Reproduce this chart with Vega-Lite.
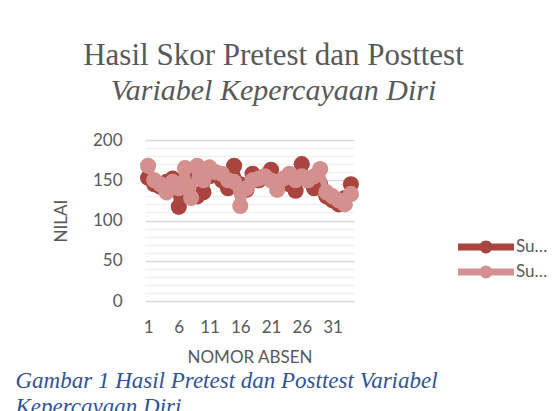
{
  "$schema": "https://vega.github.io/schema/vega-lite/v6.json",
  "autosize": "none",
  "width": 209,
  "height": 161,
  "padding": {"left": 145, "top": 140, "right": 201, "bottom": 110},
  "background": "white",
  "title": {
    "text": "Hasil Skor Pretest dan Posttest",
    "subtitle": "Variabel Kepercayaan Diri",
    "font": "Liberation Serif",
    "fontSize": 31,
    "fontWeight": "normal",
    "color": "#595959",
    "subtitleFont": "Liberation Serif",
    "subtitleFontSize": 30,
    "subtitleFontStyle": "italic",
    "subtitleColor": "#595959",
    "subtitlePadding": 4,
    "anchor": "middle",
    "dx": 24,
    "offset": 24
  },
  "config": {
    "view": {"stroke": null},
    "axis": {"labelFont": "Lato", "titleFont": "Lato", "labelColor": "#595959", "titleColor": "#595959", "labelFontSize": 17, "titleFontSize": 17, "titleFontWeight": "normal"}
  },
  "resolve": {"axis": {"x": "independent"}},
  "data": {
    "values": [
      {"NOMOR": 1, "Seri": "Sum of Pretest", "NILAI": 153},
      {"NOMOR": 2, "Seri": "Sum of Pretest", "NILAI": 145},
      {"NOMOR": 3, "Seri": "Sum of Pretest", "NILAI": 142},
      {"NOMOR": 4, "Seri": "Sum of Pretest", "NILAI": 148},
      {"NOMOR": 5, "Seri": "Sum of Pretest", "NILAI": 152},
      {"NOMOR": 6, "Seri": "Sum of Pretest", "NILAI": 117},
      {"NOMOR": 7, "Seri": "Sum of Pretest", "NILAI": 140},
      {"NOMOR": 8, "Seri": "Sum of Pretest", "NILAI": 150},
      {"NOMOR": 9, "Seri": "Sum of Pretest", "NILAI": 130},
      {"NOMOR": 10, "Seri": "Sum of Pretest", "NILAI": 135},
      {"NOMOR": 11, "Seri": "Sum of Pretest", "NILAI": 155},
      {"NOMOR": 12, "Seri": "Sum of Pretest", "NILAI": 158},
      {"NOMOR": 13, "Seri": "Sum of Pretest", "NILAI": 150},
      {"NOMOR": 14, "Seri": "Sum of Pretest", "NILAI": 140},
      {"NOMOR": 15, "Seri": "Sum of Pretest", "NILAI": 168},
      {"NOMOR": 16, "Seri": "Sum of Pretest", "NILAI": 145},
      {"NOMOR": 17, "Seri": "Sum of Pretest", "NILAI": 138},
      {"NOMOR": 18, "Seri": "Sum of Pretest", "NILAI": 158},
      {"NOMOR": 19, "Seri": "Sum of Pretest", "NILAI": 150},
      {"NOMOR": 20, "Seri": "Sum of Pretest", "NILAI": 155},
      {"NOMOR": 21, "Seri": "Sum of Pretest", "NILAI": 163},
      {"NOMOR": 22, "Seri": "Sum of Pretest", "NILAI": 150},
      {"NOMOR": 23, "Seri": "Sum of Pretest", "NILAI": 148},
      {"NOMOR": 24, "Seri": "Sum of Pretest", "NILAI": 145},
      {"NOMOR": 25, "Seri": "Sum of Pretest", "NILAI": 137},
      {"NOMOR": 26, "Seri": "Sum of Pretest", "NILAI": 170},
      {"NOMOR": 27, "Seri": "Sum of Pretest", "NILAI": 150},
      {"NOMOR": 28, "Seri": "Sum of Pretest", "NILAI": 140},
      {"NOMOR": 29, "Seri": "Sum of Pretest", "NILAI": 145},
      {"NOMOR": 30, "Seri": "Sum of Pretest", "NILAI": 130},
      {"NOMOR": 31, "Seri": "Sum of Pretest", "NILAI": 125},
      {"NOMOR": 32, "Seri": "Sum of Pretest", "NILAI": 120},
      {"NOMOR": 33, "Seri": "Sum of Pretest", "NILAI": 128},
      {"NOMOR": 34, "Seri": "Sum of Pretest", "NILAI": 145},
      {"NOMOR": 1, "Seri": "Sum of Posttest", "NILAI": 168},
      {"NOMOR": 2, "Seri": "Sum of Posttest", "NILAI": 150},
      {"NOMOR": 3, "Seri": "Sum of Posttest", "NILAI": 145},
      {"NOMOR": 4, "Seri": "Sum of Posttest", "NILAI": 135},
      {"NOMOR": 5, "Seri": "Sum of Posttest", "NILAI": 148},
      {"NOMOR": 6, "Seri": "Sum of Posttest", "NILAI": 140},
      {"NOMOR": 7, "Seri": "Sum of Posttest", "NILAI": 165},
      {"NOMOR": 8, "Seri": "Sum of Posttest", "NILAI": 128},
      {"NOMOR": 9, "Seri": "Sum of Posttest", "NILAI": 168},
      {"NOMOR": 10, "Seri": "Sum of Posttest", "NILAI": 150},
      {"NOMOR": 11, "Seri": "Sum of Posttest", "NILAI": 166},
      {"NOMOR": 12, "Seri": "Sum of Posttest", "NILAI": 160},
      {"NOMOR": 13, "Seri": "Sum of Posttest", "NILAI": 158},
      {"NOMOR": 14, "Seri": "Sum of Posttest", "NILAI": 150},
      {"NOMOR": 15, "Seri": "Sum of Posttest", "NILAI": 148},
      {"NOMOR": 16, "Seri": "Sum of Posttest", "NILAI": 118},
      {"NOMOR": 17, "Seri": "Sum of Posttest", "NILAI": 140},
      {"NOMOR": 18, "Seri": "Sum of Posttest", "NILAI": 150},
      {"NOMOR": 19, "Seri": "Sum of Posttest", "NILAI": 152},
      {"NOMOR": 20, "Seri": "Sum of Posttest", "NILAI": 155},
      {"NOMOR": 21, "Seri": "Sum of Posttest", "NILAI": 150},
      {"NOMOR": 22, "Seri": "Sum of Posttest", "NILAI": 138},
      {"NOMOR": 23, "Seri": "Sum of Posttest", "NILAI": 152},
      {"NOMOR": 24, "Seri": "Sum of Posttest", "NILAI": 158},
      {"NOMOR": 25, "Seri": "Sum of Posttest", "NILAI": 150},
      {"NOMOR": 26, "Seri": "Sum of Posttest", "NILAI": 155},
      {"NOMOR": 27, "Seri": "Sum of Posttest", "NILAI": 150},
      {"NOMOR": 28, "Seri": "Sum of Posttest", "NILAI": 155},
      {"NOMOR": 29, "Seri": "Sum of Posttest", "NILAI": 164},
      {"NOMOR": 30, "Seri": "Sum of Posttest", "NILAI": 135},
      {"NOMOR": 31, "Seri": "Sum of Posttest", "NILAI": 130},
      {"NOMOR": 32, "Seri": "Sum of Posttest", "NILAI": 125},
      {"NOMOR": 33, "Seri": "Sum of Posttest", "NILAI": 120},
      {"NOMOR": 34, "Seri": "Sum of Posttest", "NILAI": 133}
    ]
  },
  "encoding": {
    "y": {
      "field": "NILAI", "type": "quantitative",
      "scale": {"domain": [0, 200], "nice": false},
      "axis": {
        "title": "NILAI",
        "values": [0, 10, 20, 30, 40, 50, 60, 70, 80, 90, 100, 110, 120, 130, 140, 150, 160, 170, 180, 190, 200],
        "labelExpr": "datum.value % 50 === 0 ? datum.label : ''",
        "gridColor": {"condition": {"test": "datum.value % 50 === 0", "value": "#d9d9d9"}, "value": "#f0f0f0"},
        "gridWidth": 1.3,
        "domain": false, "ticks": false, "labelPadding": 23, "titlePadding": 22, "labelFlush": false, "labelOverlap": false
      }
    },
    "color": {"field": "Seri", "type": "nominal", "scale": {"domain": ["Sum of Pretest", "Sum of Posttest"], "range": ["#A9443F", "#D4908E"]},
      "legend": {"title": null, "orient": "none", "legendX": 329, "legendY": 95, "symbolType": "M-2.33,-0.29L2.33,-0.29L2.33,0.29L-2.33,0.29Z M-0.54,0A0.54,0.54 0 1,1 0.54,0A0.54,0.54 0 1,1 -0.54,0Z", "symbolSize": 576, "symbolStrokeWidth": 0, "symbolOpacity": 1, "labelFont": "Lato", "labelFontSize": 17, "labelColor": "#595959", "labelLimit": 40, "labelOffset": 18, "rowPadding": 5}}
  },
  "layer": [
    {
      "transform": [{"filter": "datum.Seri === 'Sum of Pretest'"}],
      "mark": {"type": "line", "strokeWidth": 7, "strokeCap": "round", "strokeJoin": "round"},
      "encoding": {
        "x": {"field": "NOMOR", "type": "quantitative", "scale": {"domain": [0.5, 34.5], "nice": false, "zero": false},
          "axis": {"orient": "bottom", "title": ["Gambar 1 Hasil Pretest dan Posttest Variabel", "Kepercayaan Diri"], "labels": false, "ticks": false, "domain": false, "grid": false,
            "titleFont": "Liberation Serif", "titleFontStyle": "italic", "titleFontSize": 23, "titleColor": "#2F5496", "titleLineHeight": 26,
            "titleAnchor": "start", "titleAlign": "left", "titleBaseline": "alphabetic", "titleX": -130, "titleY": 86}}
      }
    },
    {
      "transform": [{"filter": "datum.Seri === 'Sum of Pretest'"}],
      "mark": {"type": "point", "filled": true, "opacity": 1, "size": 260, "shape": "circle"},
      "encoding": {"x": {"field": "NOMOR", "type": "quantitative", "axis": null}}
    },
    {
      "transform": [{"filter": "datum.Seri === 'Sum of Posttest'"}],
      "mark": {"type": "line", "strokeWidth": 7, "strokeCap": "round", "strokeJoin": "round"},
      "encoding": {"x": {"field": "NOMOR", "type": "quantitative", "axis": null}}
    },
    {
      "transform": [{"filter": "datum.Seri === 'Sum of Posttest'"}],
      "mark": {"type": "point", "filled": true, "opacity": 1, "size": 260, "shape": "circle"},
      "encoding": {"x": {"field": "NOMOR", "type": "quantitative",
        "axis": {"orient": "bottom", "title": "NOMOR ABSEN", "values": [1, 6, 11, 16, 21, 26, 31], "grid": false, "domain": false, "ticks": false, "labelPadding": 18, "titlePadding": 14, "labelFlush": false, "labelOverlap": false}}}
    }
  ]
}
